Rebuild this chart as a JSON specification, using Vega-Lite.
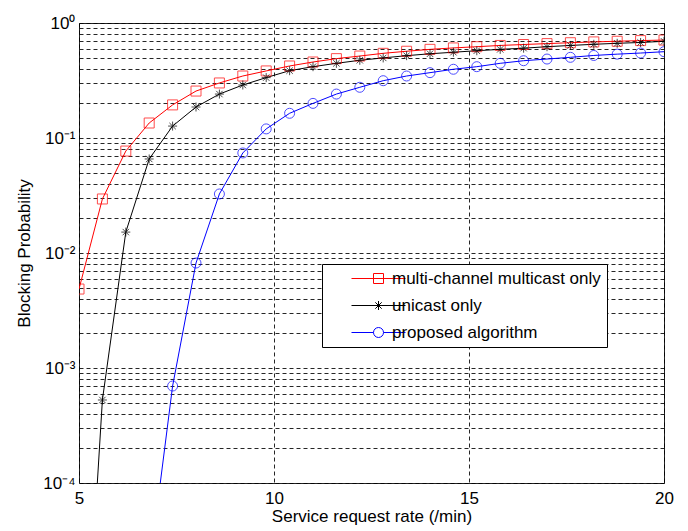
{
  "$schema": "https://vega.github.io/schema/vega-lite/v6.json",
  "width": 585,
  "height": 460,
  "autosize": {"type": "none"},
  "padding": {"left": 79, "top": 23, "right": 24, "bottom": 48},
  "background": "white",
  "config": {
    "font": "Liberation Sans",
    "view": {"stroke": "#222", "strokeWidth": 1},
    "axis": {
      "domain": false,
      "ticks": false,
      "grid": true,
      "gridColor": "#000",
      "gridOpacity": 0.85,
      "gridDash": [4, 3],
      "gridWidth": 1,
      "labelFont": "Liberation Sans",
      "labelColor": "#000",
      "labelFontSize": 17,
      "labelOverlap": false,
      "labelBound": false,
      "labelFlush": false,
      "titleFont": "Liberation Sans",
      "titleFontSize": 17,
      "titleFontWeight": "normal",
      "titleColor": "#000"
    },
    "legend": {
      "title": null,
      "orient": "none",
      "legendX": 243,
      "legendY": 241,
      "padding": 6,
      "strokeColor": "#000",
      "fillColor": "#fff",
      "labelFont": "Liberation Sans",
      "labelFontSize": 17,
      "labelColor": "#000",
      "labelLimit": 400,
      "symbolSize": 100,
      "symbolOffset": 26,
      "labelOffset": 21,
      "rowPadding": 9,
      "symbolStrokeWidth": 1,
      "symbolOpacity": 1
    }
  },
  "data": {
    "values": [
      {"rate": 5.0, "series": "multi-channel multicast only", "p": 0.00486},
      {"rate": 5.6, "series": "multi-channel multicast only", "p": 0.0295},
      {"rate": 6.2, "series": "multi-channel multicast only", "p": 0.077},
      {"rate": 6.8, "series": "multi-channel multicast only", "p": 0.135},
      {"rate": 7.4, "series": "multi-channel multicast only", "p": 0.194},
      {"rate": 8.0, "series": "multi-channel multicast only", "p": 0.256},
      {"rate": 8.6, "series": "multi-channel multicast only", "p": 0.301},
      {"rate": 9.2, "series": "multi-channel multicast only", "p": 0.346},
      {"rate": 9.8, "series": "multi-channel multicast only", "p": 0.383},
      {"rate": 10.4, "series": "multi-channel multicast only", "p": 0.423},
      {"rate": 11.0, "series": "multi-channel multicast only", "p": 0.458},
      {"rate": 11.6, "series": "multi-channel multicast only", "p": 0.49},
      {"rate": 12.2, "series": "multi-channel multicast only", "p": 0.516},
      {"rate": 12.8, "series": "multi-channel multicast only", "p": 0.545},
      {"rate": 13.4, "series": "multi-channel multicast only", "p": 0.568},
      {"rate": 14.0, "series": "multi-channel multicast only", "p": 0.59},
      {"rate": 14.6, "series": "multi-channel multicast only", "p": 0.607},
      {"rate": 15.2, "series": "multi-channel multicast only", "p": 0.622},
      {"rate": 15.8, "series": "multi-channel multicast only", "p": 0.638},
      {"rate": 16.4, "series": "multi-channel multicast only", "p": 0.65},
      {"rate": 17.0, "series": "multi-channel multicast only", "p": 0.662},
      {"rate": 17.6, "series": "multi-channel multicast only", "p": 0.674},
      {"rate": 18.2, "series": "multi-channel multicast only", "p": 0.685},
      {"rate": 18.8, "series": "multi-channel multicast only", "p": 0.694},
      {"rate": 19.4, "series": "multi-channel multicast only", "p": 0.703},
      {"rate": 20.0, "series": "multi-channel multicast only", "p": 0.711},

      {"rate": 5.0, "series": "unicast only", "p": 0.00000025},
      {"rate": 5.6, "series": "unicast only", "p": 0.000527},
      {"rate": 6.2, "series": "unicast only", "p": 0.0152},
      {"rate": 6.8, "series": "unicast only", "p": 0.0657},
      {"rate": 7.4, "series": "unicast only", "p": 0.127},
      {"rate": 8.0, "series": "unicast only", "p": 0.186},
      {"rate": 8.6, "series": "unicast only", "p": 0.241},
      {"rate": 9.2, "series": "unicast only", "p": 0.289},
      {"rate": 9.8, "series": "unicast only", "p": 0.335},
      {"rate": 10.4, "series": "unicast only", "p": 0.385},
      {"rate": 11.0, "series": "unicast only", "p": 0.417},
      {"rate": 11.6, "series": "unicast only", "p": 0.446},
      {"rate": 12.2, "series": "unicast only", "p": 0.474},
      {"rate": 12.8, "series": "unicast only", "p": 0.497},
      {"rate": 13.4, "series": "unicast only", "p": 0.52},
      {"rate": 14.0, "series": "unicast only", "p": 0.54},
      {"rate": 14.6, "series": "unicast only", "p": 0.557},
      {"rate": 15.2, "series": "unicast only", "p": 0.574},
      {"rate": 15.8, "series": "unicast only", "p": 0.59},
      {"rate": 16.4, "series": "unicast only", "p": 0.604},
      {"rate": 17.0, "series": "unicast only", "p": 0.622},
      {"rate": 17.6, "series": "unicast only", "p": 0.638},
      {"rate": 18.2, "series": "unicast only", "p": 0.653},
      {"rate": 18.8, "series": "unicast only", "p": 0.666},
      {"rate": 19.4, "series": "unicast only", "p": 0.677},
      {"rate": 20.0, "series": "unicast only", "p": 0.693},

      {"rate": 6.8, "series": "proposed algorithm", "p": 0.0000175},
      {"rate": 7.4, "series": "proposed algorithm", "p": 0.000697},
      {"rate": 8.0, "series": "proposed algorithm", "p": 0.00818},
      {"rate": 8.6, "series": "proposed algorithm", "p": 0.0326},
      {"rate": 9.2, "series": "proposed algorithm", "p": 0.0741},
      {"rate": 9.8, "series": "proposed algorithm", "p": 0.12},
      {"rate": 10.4, "series": "proposed algorithm", "p": 0.164},
      {"rate": 11.0, "series": "proposed algorithm", "p": 0.2},
      {"rate": 11.6, "series": "proposed algorithm", "p": 0.241},
      {"rate": 12.2, "series": "proposed algorithm", "p": 0.276},
      {"rate": 12.8, "series": "proposed algorithm", "p": 0.315},
      {"rate": 13.4, "series": "proposed algorithm", "p": 0.346},
      {"rate": 14.0, "series": "proposed algorithm", "p": 0.37},
      {"rate": 14.6, "series": "proposed algorithm", "p": 0.396},
      {"rate": 15.2, "series": "proposed algorithm", "p": 0.417},
      {"rate": 15.8, "series": "proposed algorithm", "p": 0.446},
      {"rate": 16.4, "series": "proposed algorithm", "p": 0.47},
      {"rate": 17.0, "series": "proposed algorithm", "p": 0.486},
      {"rate": 17.6, "series": "proposed algorithm", "p": 0.503},
      {"rate": 18.2, "series": "proposed algorithm", "p": 0.522},
      {"rate": 18.8, "series": "proposed algorithm", "p": 0.536},
      {"rate": 19.4, "series": "proposed algorithm", "p": 0.548},
      {"rate": 20.0, "series": "proposed algorithm", "p": 0.563}
    ]
  },
  "encoding": {
    "x": {
      "field": "rate",
      "type": "quantitative",
      "scale": {"domain": [5, 20], "nice": false, "zero": false},
      "axis": {
        "values": [5, 10, 15, 20],
        "format": "d",
        "title": "Service request rate (/min)",
        "labelPadding": 7,
        "titlePadding": 2
      }
    },
    "y": {
      "field": "p",
      "type": "quantitative",
      "scale": {"type": "log", "domain": [0.0001, 1], "nice": false},
      "axis": {
        "values": [0.0001, 0.0002, 0.0003, 0.0004, 0.0005, 0.0006, 0.0007, 0.0008, 0.0009,
                   0.001, 0.002, 0.003, 0.004, 0.005, 0.006, 0.007, 0.008, 0.009,
                   0.01, 0.02, 0.03, 0.04, 0.05, 0.06, 0.07, 0.08, 0.09,
                   0.1, 0.2, 0.3, 0.4, 0.5, 0.6, 0.7, 0.8, 0.9, 1],
        "labelExpr": "datum.value == 1 ? '10⁰' : datum.value == 0.1 ? '10⁻¹' : datum.value == 0.01 ? '10⁻²' : datum.value == 0.001 ? '10⁻³' : datum.value == 0.0001 ? '10⁻⁴' : ''",
        "title": "Blocking Probability",
        "labelPadding": 4,
        "titlePadding": 9
      }
    }
  },
  "layer": [
    {
      "mark": {"type": "line", "strokeWidth": 1, "clip": true},
      "encoding": {
        "stroke": {
          "field": "series",
          "type": "nominal",
          "scale": {
            "domain": ["multi-channel multicast only", "unicast only", "proposed algorithm"],
            "range": ["#ff0000", "#000000", "#0000ff"]
          }
        }
      }
    },
    {
      "transform": [{"filter": "false"}],
      "mark": {"type": "point", "filled": false, "strokeWidth": 1, "size": 100, "clip": true},
      "encoding": {
        "stroke": {
          "field": "series",
          "type": "nominal",
          "scale": {
            "domain": ["multi-channel multicast only", "unicast only", "proposed algorithm"],
            "range": ["#ff0000", "#000000", "#0000ff"]
          }
        },
        "shape": {
          "field": "series",
          "type": "nominal",
          "scale": {
            "domain": ["multi-channel multicast only", "unicast only", "proposed algorithm"],
            "range": [
              "M-2.2,0H8.6M2.2,-1H4.2V1H2.2Z",
              "M-2.2,0H8.6M3.2,-0.9V0.9M2.56,-0.64L3.84,0.64M2.56,0.64L3.84,-0.64",
              "M-2.2,0H2.2M4.2,0H8.6M4.2,0A1,1 0 1,1 2.2,0A1,1 0 1,1 4.2,0"
            ]
          }
        }
      }
    },
    {
      "transform": [{"filter": "datum.series == 'multi-channel multicast only'"}],
      "mark": {"type": "point", "shape": "square", "color": "#ff0000", "filled": false, "strokeWidth": 1, "size": 100, "clip": true}
    },
    {
      "transform": [{"filter": "datum.series == 'unicast only'"}],
      "mark": {"type": "point", "shape": "M0,-0.9V0.9M-0.9,0H0.9M-0.64,-0.64L0.64,0.64M-0.64,0.64L0.64,-0.64", "color": "#000000", "filled": false, "strokeWidth": 1, "size": 100, "clip": true}
    },
    {
      "transform": [{"filter": "datum.series == 'proposed algorithm'"}],
      "mark": {"type": "point", "shape": "circle", "color": "#0000ff", "filled": false, "strokeWidth": 1, "size": 100, "clip": true}
    }
  ]
}
